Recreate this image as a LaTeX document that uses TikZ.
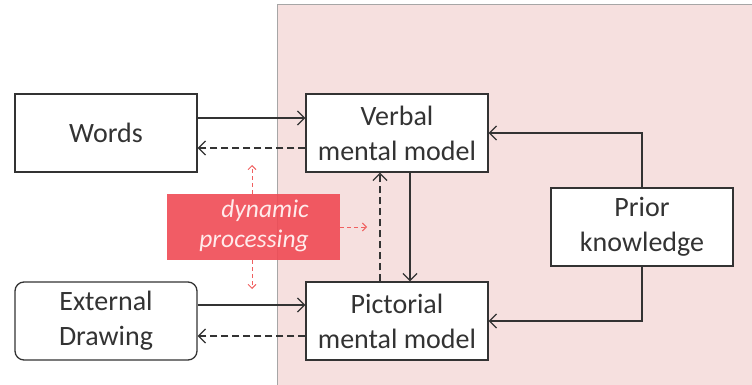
\documentclass[tikz,border=0pt]{standalone}
\usepackage{fontspec}
\setmainfont{Carlito}
\usetikzlibrary{arrows.meta}

\definecolor{bgpink}{RGB}{246,224,223}
\definecolor{edgegray}{RGB}{51,51,51}
\definecolor{dynred}{RGB}{240,74,84}
\definecolor{hintred}{RGB}{240,96,96}

\begin{document}
\begin{tikzpicture}[x=1pt,y=-1pt,
			box/.style={draw=edgegray, line width=1.3pt, fill=white,
				minimum width=182pt, minimum height=78pt, align=center,
				inner sep=2pt, font=\fontsize{28}{35}\selectfont, text=edgegray},
			arr/.style={draw=edgegray, line width=1.3pt,
				-{Straight Barb[length=7pt,width=14pt,line width=1.3pt]}},
			back/.style={arr, dashed, dash pattern=on 7pt off 4pt},
			hint/.style={draw=hintred, line width=0.9pt, dash pattern=on 4pt off 3pt,
				-{Straight Barb[length=4pt,width=8pt,line width=0.9pt]}}]
		\useasboundingbox (0,0) rectangle (752,385);
		% shaded working memory area
		\fill[bgpink] (277,5) rectangle (760,390);
		\draw[gray!70, line width=1pt] (277,390) -- (277,5) -- (760,5);

		\node[box] (Words) at (106,133) {Words};
		\node[box, rounded corners=9pt] (Drawing) at (106,321) {External\\Drawing};
		\node[box] (Verbal) at (397,133) {Verbal\\mental model};
		\node[box] (Pictorial) at (397,321) {Pictorial\\mental model};
		\node[box] (Prior) at (642,227) {Prior\\knowledge};

		\node[fill=dynred, fill opacity=0.9, text opacity=1, minimum width=173pt,
			minimum height=66pt, inner sep=0pt] (Dyn) at (253.5,227) {};
		\node[text=white!92!red, align=right, inner sep=0pt,
			font=\fontsize{25.5}{30}\selectfont\itshape, anchor=east] (DynText) at (309,226)
			{dynamic\\processing};

		\coordinate (HintUp) at (252,165);
		\coordinate (HintDown) at (252,289);
		\coordinate (HintRight) at (367,227);

		% external representations
		\draw[arr] ([yshift=15pt]Words.east) -- ([yshift=15pt]Verbal.west);
		\draw[back] ([yshift=-15pt]Verbal.west) -- ([yshift=-15pt]Words.east);
		\draw[arr] ([yshift=16pt]Drawing.east) -- ([yshift=16pt]Pictorial.west);
		\draw[back] ([yshift=-15pt]Pictorial.west) -- ([yshift=-15pt]Drawing.east);

		% between the mental models
		\draw[arr] ([xshift=13pt]Verbal.south) -- ([xshift=13pt]Pictorial.north);
		\draw[back] ([xshift=-17pt]Pictorial.north) -- ([xshift=-17pt]Verbal.south);

		% prior knowledge
		\draw[arr] (Prior.north) |- (Verbal.east);
		\draw[arr] (Prior.south) |- (Pictorial.east);

		% dynamic processing hints
		\draw[hint] (Dyn.north -| HintUp) -- (HintUp);
		\draw[hint] (Dyn.south -| HintDown) -- (HintDown);
		\draw[hint] (Dyn.east) -- (HintRight);
\end{tikzpicture}
\end{document}
